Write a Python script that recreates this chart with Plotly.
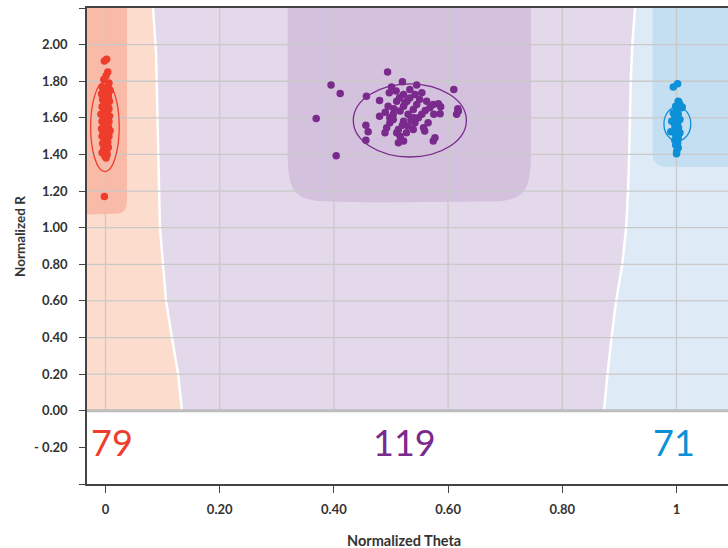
import plotly.graph_objects as go

# ---------------- data ----------------
x_tick_vals = [0, 0.2, 0.4, 0.6, 0.8, 1.0]
x_tick_text = ["0", "0.20", "0.40", "0.60", "0.80", "1"]
y_tick_vals = [-0.4, -0.2, 0.0, 0.2, 0.4, 0.6, 0.8, 1.0, 1.2, 1.4, 1.6, 1.8, 2.0, 2.2]
y_tick_text = ["", "- 0.20", "0.00", "0.20", "0.40", "0.60", "0.80", "1.00",
               "1.20", "1.40", "1.60", "1.80", "2.00", ""]

red_theta = [0.002, -0.002, 0.004, 0.001, -0.003, 0.006, -0.006, 0.003, 0.008, -0.004,
             0.000, -0.007, 0.005, 0.002, -0.005, 0.007, -0.002, 0.004, -0.006, 0.001,
             0.006, -0.003, 0.003, -0.008, 0.000, 0.007, -0.004, 0.004, -0.001, 0.006,
             -0.006, 0.002, -0.003, 0.005, -0.007, 0.001, 0.008, -0.004, 0.003, -0.001,
             0.006, -0.006, 0.002, -0.002, 0.004, -0.005, 0.001, 0.005, -0.003, 0.002,
             -0.006, 0.003, -0.001, 0.001, -0.002]
red_r = [1.92, 1.91, 1.85, 1.83, 1.81, 1.79, 1.77, 1.77, 1.75, 1.75,
         1.74, 1.73, 1.72, 1.71, 1.70, 1.69, 1.68, 1.67, 1.66, 1.66,
         1.65, 1.64, 1.63, 1.62, 1.62, 1.61, 1.60, 1.60, 1.59, 1.58,
         1.58, 1.57, 1.56, 1.55, 1.54, 1.54, 1.53, 1.52, 1.52, 1.51,
         1.50, 1.50, 1.49, 1.48, 1.47, 1.46, 1.45, 1.44, 1.43, 1.42,
         1.41, 1.40, 1.39, 1.38, 1.17]

purple_theta = [0.494, 0.457, 0.610, 0.480, 0.480, 0.456, 0.460, 0.456,
                0.520, 0.501, 0.545, 0.497, 0.554, 0.510, 0.533, 0.583,
                0.586, 0.618, 0.615, 0.495, 0.522, 0.545, 0.568, 0.504,
                0.530, 0.554, 0.498, 0.522, 0.542, 0.565, 0.4925, 0.513,
                0.539, 0.557, 0.4895, 0.516, 0.522, 0.513, 0.577, 0.574,
                0.509, 0.533, 0.522, 0.542, 0.516, 0.539, 0.548, 0.504,
                0.530, 0.5625, 0.574, 0.510, 0.527, 0.498, 0.5245,
                0.395, 0.411, 0.369, 0.404, 0.617, 0.515, 0.550, 0.560,
                0.505, 0.535, 0.520, 0.559, 0.490, 0.575, 0.587, 0.528, 0.540]
purple_r = [1.851, 1.718, 1.755, 1.695, 1.609, 1.560, 1.524, 1.477,
            1.797, 1.768, 1.779, 1.737, 1.737, 1.691, 1.709, 1.677,
            1.622, 1.637, 1.619, 1.664, 1.664, 1.673, 1.655, 1.619,
            1.619, 1.619, 1.573, 1.582, 1.573, 1.573, 1.546, 1.537,
            1.537, 1.546, 1.518, 1.500, 1.473, 1.464, 1.491, 1.473,
            1.746, 1.755, 1.728, 1.728, 1.637, 1.646, 1.600, 1.591,
            1.555, 1.691, 1.673, 1.518, 1.518, 1.600, 1.682,
            1.779, 1.733, 1.597, 1.393, 1.650, 1.710, 1.700, 1.640,
            1.650, 1.590, 1.560, 1.528, 1.630, 1.620, 1.660, 1.690, 1.600]

blue_theta = [1.002, 0.9944, 1.003, 1.006, 0.9986, 1.009, 1.0004, 0.9944, 1.003, 0.997,
              1.006, 0.9916, 1.002, 0.997, 1.0035, 1.0004, 0.990, 1.006, 0.9986, 1.003,
              0.997, 1.002, 0.9986, 1.003, 1.0004, 1.000, 1.004, 1.010]
blue_r = [1.786, 1.768, 1.691, 1.673, 1.664, 1.655, 1.640, 1.627, 1.619, 1.600,
          1.591, 1.582, 1.573, 1.555, 1.546, 1.531, 1.524, 1.518, 1.506, 1.491,
          1.477, 1.464, 1.451, 1.436, 1.418, 1.404, 1.687, 1.659]

# fitted ellipses: centre theta, centre R, half-width, half-height
red_ellipse = [-0.001, 1.551, 0.025, 0.245]
purple_ellipse = [0.533, 1.586, 0.099, 0.200]
blue_ellipse = [1.0015, 1.567, 0.0235, 0.093]

cluster_counts = ["79", "119", "71"]
count_theta = [0.012, 0.524, 0.996]

# decision boundaries (theta, R), from top to bottom
red_purple_boundary_theta = [0.0832, 0.0884, 0.0954, 0.1007, 0.106, 0.1165, 0.127, 0.134]
red_purple_boundary_r = [2.2, 1.964, 0.998, 0.802, 0.600, 0.398, 0.202, 0.0]
purple_blue_boundary_theta = [0.9273, 0.9226, 0.9198, 0.9173, 0.915, 0.9116, 0.905, 0.894, 0.886, 0.879, 0.873]
purple_blue_boundary_r = [2.2, 1.997, 1.795, 1.418, 1.195, 0.993, 0.797, 0.595, 0.393, 0.196, 0.0]

# ---------------- styles ----------------
RED, PURPLE, BLUE = "#EE3D2C", "#7A2A8C", "#0C90D8"
RED_L, RED_D = "#FCDCCD", "#F9BBA8"
PUR_L, PUR_D = "#E4D9EA", "#D4C1DD"
BLU_L, BLU_D = "#DEEBF7", "#C4DEF2"
GRID = "#C9C9C9"
X_RANGE = [-0.0324, 1.0902]
Y_RANGE = [-0.4, 2.2]
FAR_L, FAR_R, TOP = -0.3, 1.4, 2.4
ML, MT, MB, W, H = 87, 8, 64, 728, 548
PW, PH = W - ML, H - MT - MB
PLOT_BOTTOM = H - MB


def poly(xs, ys):
    return " ".join(("M" if i == 0 else "L") + f" {x},{y}" for i, (x, y) in enumerate(zip(xs, ys)))


shapes = []
# light regions
shapes.append(dict(type="rect", xref="x", yref="y", x0=FAR_L, x1=FAR_R, y0=0, y1=TOP,
                   fillcolor=PUR_L, line=dict(width=0), layer="below"))
rx = [FAR_L, FAR_L, red_purple_boundary_theta[0]] + red_purple_boundary_theta
ry = [0, TOP, TOP] + red_purple_boundary_r
shapes.append(dict(type="path", xref="x", yref="y", path=poly(rx, ry) + " Z",
                   fillcolor=RED_L, line=dict(width=0), layer="below"))
bx = [FAR_R, FAR_R, purple_blue_boundary_theta[0]] + purple_blue_boundary_theta
by = [0, TOP, TOP] + purple_blue_boundary_r
shapes.append(dict(type="path", xref="x", yref="y", path=poly(bx, by) + " Z",
                   fillcolor=BLU_L, line=dict(width=0), layer="below"))
# white boundaries
for tx, tr in [(red_purple_boundary_theta, red_purple_boundary_r),
               (purple_blue_boundary_theta, purple_blue_boundary_r)]:
    shapes.append(dict(type="path", xref="x", yref="y",
                       path=poly([tx[0]] + tx, [TOP] + tr),
                       line=dict(color="white", width=2.5), layer="below"))

# dark (core) regions with rounded corners
red_core = (f"M {FAR_L},{TOP} L 0.0377,{TOP} L 0.0377,1.15 "
            f"Q 0.0377,1.076 0.018,1.076 L {FAR_L},1.055 Z")
purple_core = (f"M 0.319,{TOP} L 0.319,1.42 C 0.319,1.19 0.33,1.145 0.395,1.143 "
               f"L 0.47,1.137 L 0.67,1.143 C 0.735,1.145 0.745,1.19 0.745,1.42 L 0.745,{TOP} Z")
blue_core = (f"M 0.958,{TOP} L 0.958,1.41 Q 0.958,1.333 0.982,1.333 L {FAR_R},1.325 L {FAR_R},{TOP} Z")
for p, c in [(red_core, RED_D), (purple_core, PUR_D), (blue_core, BLU_D)]:
    shapes.append(dict(type="path", xref="x", yref="y", path=p,
                       fillcolor=c, line=dict(width=0), layer="below"))

# grid lines (only above zero)
for yv in y_tick_vals:
    if 0 < yv < 2.1:
        shapes.append(dict(type="line", xref="x", yref="y", x0=FAR_L, x1=FAR_R, y0=yv, y1=yv,
                           line=dict(color=GRID, width=1.3), layer="below"))
for xv in x_tick_vals:
    shapes.append(dict(type="line", xref="x", yref="y", x0=xv, x1=xv, y0=0, y1=TOP,
                       line=dict(color=GRID, width=1.3), layer="below"))
shapes.append(dict(type="line", xref="x", yref="y", x0=FAR_L, x1=FAR_R, y0=0, y1=0,
                   line=dict(color="#BDBDBD", width=3), layer="below"))

# ellipses
for e, c in [(red_ellipse, RED), (purple_ellipse, PURPLE), (blue_ellipse, BLUE)]:
    shapes.append(dict(type="circle", xref="x", yref="y",
                       x0=e[0] - e[2], x1=e[0] + e[2], y0=e[1] - e[3], y1=e[1] + e[3],
                       line=dict(color=c, width=1.3), layer="above"))

fig = go.Figure()
for tx, tr, c in [(red_theta, red_r, RED), (purple_theta, purple_r, PURPLE), (blue_theta, blue_r, BLUE)]:
    fig.add_trace(go.Scatter(x=tx, y=tr, mode="markers",
                             marker=dict(color=c, size=7.5, line=dict(width=0)),
                             showlegend=False, hoverinfo="skip"))

annotations = []
for t, txt, c in zip(count_theta, cluster_counts, [RED, PURPLE, BLUE]):
    annotations.append(dict(x=t, y=-0.17, xref="x", yref="y", text=txt, showarrow=False,
                            xanchor="center", yanchor="middle",
                            font=dict(family="Lato, sans-serif", weight=400, size=36, color=c)))
annotations.append(dict(x=(404 - ML) / PW, y=(PLOT_BOTTOM - 540) / PH, xref="paper", yref="paper",
                        text="Normalized Theta", showarrow=False, xanchor="center",
                        yanchor="middle",
                        font=dict(family="Lato, sans-serif", size=14.5, color="#333333", weight=700)))
annotations.append(dict(x=(20 - ML) / PW, y=(PLOT_BOTTOM - 237) / PH, xref="paper", yref="paper",
                        text="Normalized R", showarrow=False, xanchor="center",
                        yanchor="middle", textangle=-90,
                        font=dict(family="Lato, sans-serif", size=13.5, color="#333333", weight=700)))

TICK_FONT = dict(family="Lato, sans-serif", size=13, color="#333333", weight=700)
fig.update_layout(
    width=W, height=H,
    margin=dict(l=ML, r=0, t=MT, b=MB, pad=0),
    paper_bgcolor="white", plot_bgcolor="white",
    shapes=shapes, annotations=annotations,
    xaxis=dict(range=X_RANGE, tickvals=x_tick_vals, ticktext=x_tick_text,
               showgrid=False, zeroline=False, showline=True, mirror=True,
               linecolor="#444444", linewidth=1.5, ticks="outside", ticklen=7,
               tickcolor="#444444", tickwidth=1.2, tickfont=TICK_FONT, ticklabelstandoff=6),
    yaxis=dict(range=Y_RANGE, tickvals=y_tick_vals, ticktext=y_tick_text,
               showgrid=False, zeroline=False, showline=True,
               linecolor="#444444", linewidth=1.5, ticks="outside", ticklen=6,
               tickcolor="#444444", tickwidth=1.2, tickfont=TICK_FONT, ticklabelstandoff=9),
)

fig.write_html("out.html", config={"displayModeBar": False},
               post_script="document.body.style.margin='0';document.body.style.overflow='hidden';")
